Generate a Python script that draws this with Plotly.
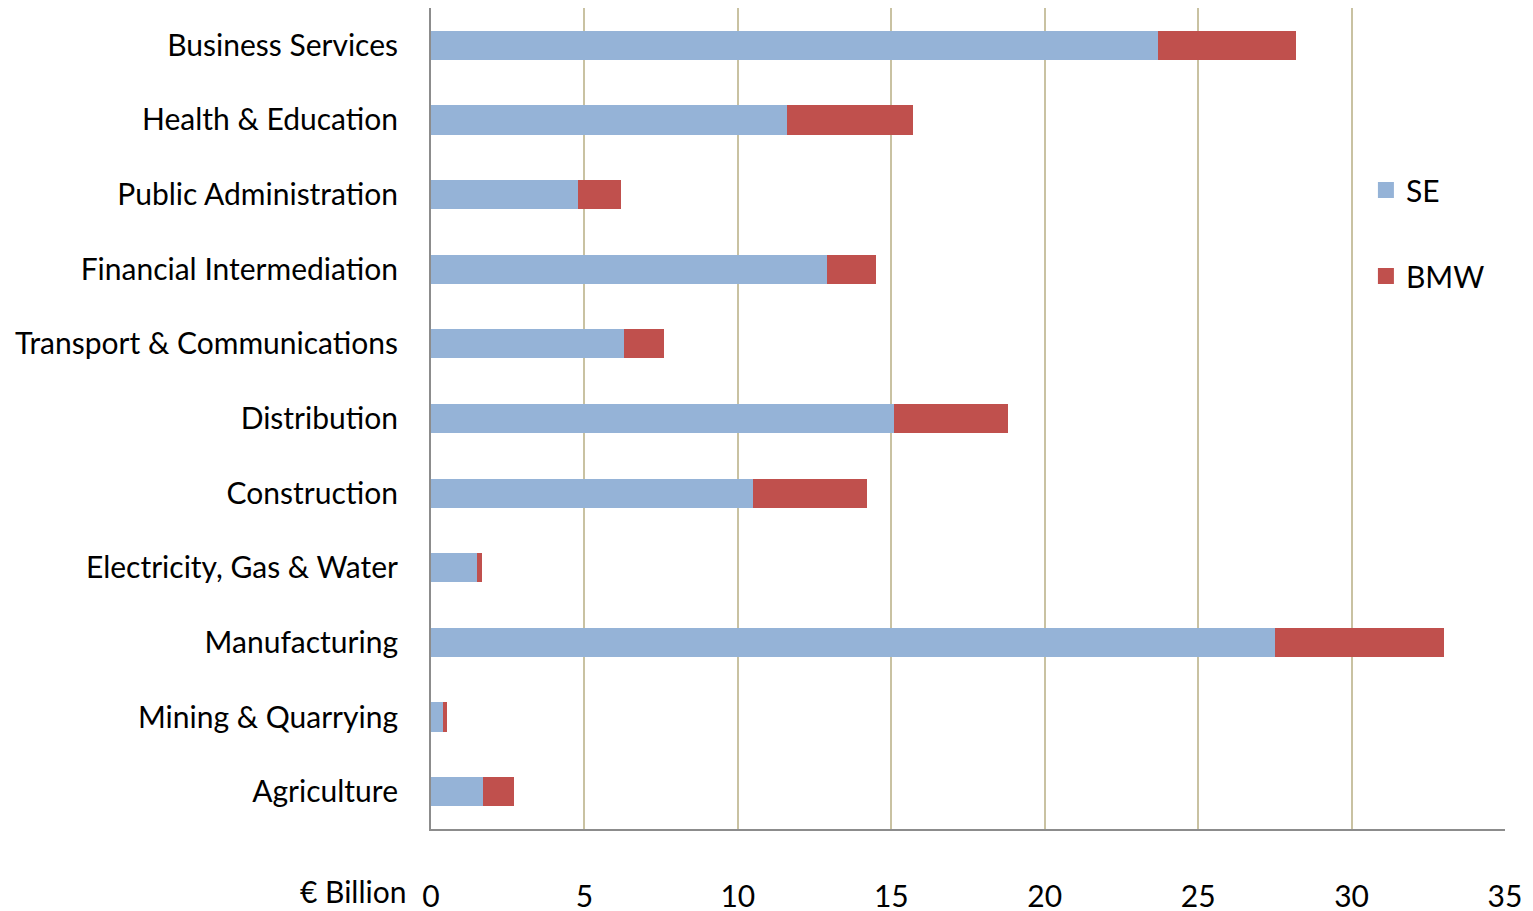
import plotly.graph_objects as go

categories = ["Business Services", "Health & Education", "Public Administration",
              "Financial Intermediation", "Transport & Communications", "Distribution",
              "Construction", "Electricity, Gas & Water", "Manufacturing",
              "Mining & Quarrying", "Agriculture"]
se_values = [23.7, 11.6, 4.8, 12.9, 6.3, 15.1, 10.5, 1.5, 27.5, 0.4, 1.7]
bmw_values = [4.5, 4.1, 1.4, 1.6, 1.3, 3.7, 3.7, 0.15, 5.5, 0.13, 1.0]
x_ticks = [0, 5, 10, 15, 20, 25, 30, 35]

se_color = "#95b3d7"
bmw_color = "#c0504d"
font_family = "Lato"
fig = go.Figure()
fig.add_trace(go.Bar(y=categories, x=se_values, name="SE", orientation="h",
                     marker=dict(color=se_color, line=dict(width=0)), width=0.39,
                     showlegend=False))
fig.add_trace(go.Bar(y=categories, x=bmw_values, name="BMW", orientation="h",
                     marker=dict(color=bmw_color, line=dict(width=0)), width=0.39,
                     showlegend=False))
# legend entries
fig.add_trace(go.Scatter(x=[None], y=[None], mode="markers", name="SE",
                         marker=dict(symbol="square", size=18, color=se_color),
                         legendgroup="se"))
fig.add_trace(go.Scatter(x=[None], y=[None], mode="markers", name="BMW",
                         marker=dict(symbol="square", size=18, color=bmw_color),
                         legendgroup="bmw"))

fig.update_layout(
    barmode="stack",
    width=1525, height=905,
    margin=dict(l=423, r=28, t=0, b=81),
    plot_bgcolor="white", paper_bgcolor="white",
    font=dict(family=font_family, size=30, color="black"),
    legend=dict(x=0.8705, y=0.81, xanchor="left", yanchor="top",
                font=dict(size=30), tracegroupgap=44, traceorder="grouped",
                bgcolor="rgba(0,0,0,0)"),
    xaxis=dict(range=[0, 35], tickvals=x_ticks, showgrid=True, gridcolor="#c9c2a2",
               gridwidth=2, showline=True, linecolor="#8c8c8c", linewidth=2,
               zeroline=False, ticks="", ticklabelstandoff=40,
               tickfont=dict(size=30)),
    yaxis=dict(categoryorder="array", categoryarray=categories[::-1],
               showline=True, linecolor="#8c8c8c", linewidth=2, showgrid=False,
               ticks="", ticklabelstandoff=25, tickfont=dict(size=30)),
    annotations=[dict(text="€ Billion", xref="paper", yref="paper", x=-0.0215, y=-0.076,
                      xanchor="right", yanchor="middle", showarrow=False,
                      font=dict(size=30))],
)

fig.write_html("out.html")
